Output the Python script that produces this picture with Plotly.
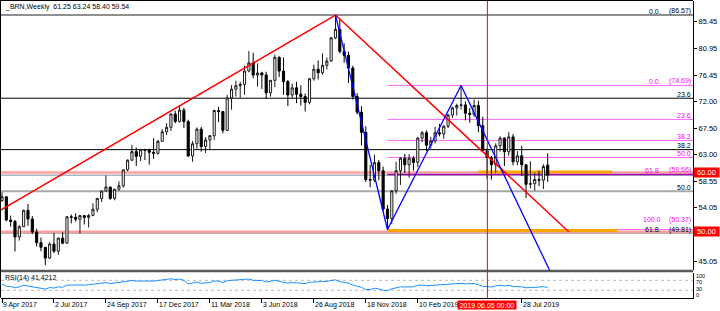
import plotly.graph_objects as go
import pandas as pd

# ---------------- data ----------------
header_text = "_BRN,Weekly\u00a0\u00a061.25 63.24 58.40 59.54"
first_week = "2017-04-09"

opens = [55.24, 55.89, 51.96, 51.73, 49.10, 50.84, 53.61, 52.15, 49.95, 48.15,
         47.37, 45.54, 47.92, 46.71, 48.91, 48.06, 52.52, 52.42, 52.10, 52.72,
         52.41, 52.75, 53.78, 55.62, 56.86, 57.54, 55.62, 57.17, 57.75, 60.44,
         62.07, 63.52, 62.72, 63.86, 63.73, 63.40, 63.23, 65.25, 66.87, 67.62,
         69.87, 68.61, 70.52, 68.58, 62.79, 64.84, 67.31, 64.37, 65.49, 66.21,
         70.45, 70.27, 67.11, 72.58, 74.06, 74.64, 74.87, 77.12, 78.51, 76.44,
         76.79, 76.46, 73.44, 75.55, 79.44, 77.11, 75.33, 73.07, 74.29, 73.21,
         72.81, 71.83, 75.82, 77.42, 76.83, 78.09, 78.80, 82.72, 84.16, 80.43,
         79.78, 77.62, 72.83, 70.18, 66.76, 58.80, 58.71, 61.67, 60.28, 53.82,
         52.20, 56.90, 60.30, 62.40, 61.30, 62.40, 61.70, 65.80, 66.70, 64.60,
         65.30, 66.70, 66.50, 67.80, 69.70, 70.90, 71.30, 71.40, 70.00, 69.80,
         71.30, 67.90, 63.70, 62.50, 61.30, 64.50, 65.80, 63.50, 66.00, 61.80,
         62.80, 61.30, 58.00, 58.10, 58.80, 58.70, 61.25]
highs = [56.65, 55.98, 52.72, 52.00, 51.10, 53.70, 54.67, 52.60, 50.50, 49.00,
         47.40, 48.20, 49.80, 49.00, 49.90, 52.60, 52.90, 53.10, 52.80, 52.80,
         53.00, 54.80, 55.70, 56.90, 59.49, 57.60, 57.20, 58.50, 60.50, 62.20,
         64.65, 64.20, 64.00, 64.00, 64.00, 65.80, 65.50, 67.30, 68.30, 70.00,
         70.40, 71.28, 70.90, 68.90, 65.30, 67.60, 67.70, 66.00, 66.30, 70.60,
         71.10, 70.30, 73.10, 74.75, 75.50, 75.30, 78.00, 80.50, 80.20, 78.40,
         77.00, 77.00, 75.60, 79.90, 79.60, 79.40, 75.60, 75.00, 75.30, 74.70,
         73.30, 75.90, 78.20, 78.90, 80.10, 79.40, 82.90, 86.57, 86.00, 81.80,
         80.40, 78.00, 73.40, 71.20, 67.80, 61.30, 63.00, 62.10, 61.00, 54.50,
         57.00, 61.80, 62.60, 63.10, 63.10, 62.80, 66.00, 67.00, 67.10, 66.00,
         67.70, 68.20, 68.00, 69.90, 71.10, 71.60, 74.69, 72.00, 70.90, 72.30,
         72.10, 69.40, 64.10, 62.80, 64.90, 66.10, 65.90, 66.80, 66.50, 63.60,
         64.50, 61.40, 61.90, 60.00, 60.30, 61.40, 63.24]
lows = [55.07, 51.76, 50.85, 46.64, 48.50, 50.90, 51.00, 49.60, 47.50, 46.70,
        44.35, 45.40, 46.40, 46.10, 47.90, 48.00, 51.40, 51.70, 49.70, 51.20,
        50.70, 52.60, 53.30, 55.00, 56.80, 55.40, 55.30, 56.90, 57.40, 60.20,
        62.00, 61.10, 61.90, 62.10, 61.30, 62.30, 63.00, 65.20, 66.30, 67.00,
        68.30, 68.40, 67.50, 62.60, 61.80, 64.00, 63.50, 63.30, 63.80, 65.50,
        68.50, 66.60, 67.00, 70.60, 72.80, 72.60, 73.10, 76.90, 75.90, 74.50,
        74.10, 72.40, 72.80, 74.40, 76.10, 73.10, 71.20, 72.50, 71.70, 71.30,
        70.30, 71.50, 75.50, 75.70, 76.50, 77.40, 78.70, 82.50, 80.10, 78.50,
        75.10, 72.30, 69.80, 64.60, 58.40, 57.50, 58.40, 58.70, 53.50, 50.37,
        51.30, 56.40, 57.90, 59.90, 59.10, 60.30, 60.90, 65.10, 63.60, 64.00,
        64.90, 66.10, 65.70, 67.50, 69.20, 69.60, 70.60, 68.80, 68.40, 69.40,
        66.80, 63.60, 59.00, 58.80, 59.90, 63.50, 61.10, 62.80, 61.20, 61.20,
        59.40, 55.70, 57.30, 56.90, 57.70, 57.20, 58.40]
closes = [55.89, 51.96, 51.73, 49.10, 50.84, 53.61, 52.15, 49.95, 48.15, 47.37,
          45.54, 47.92, 46.71, 48.91, 48.06, 52.52, 52.42, 52.10, 52.72, 52.41,
          52.75, 53.78, 55.62, 56.86, 57.54, 55.62, 57.17, 57.75, 60.44, 62.07,
          63.52, 62.72, 63.86, 63.73, 63.40, 63.23, 65.25, 66.87, 67.62, 69.87,
          68.61, 70.52, 68.58, 62.79, 64.84, 67.31, 64.37, 65.49, 66.21, 70.45,
          70.27, 67.11, 72.58, 74.06, 74.64, 74.87, 77.12, 78.51, 76.44, 76.79,
          76.46, 73.44, 75.55, 79.44, 77.11, 75.33, 73.07, 74.29, 73.21, 72.81,
          71.83, 75.82, 77.42, 76.83, 78.09, 78.80, 82.72, 84.16, 80.43, 79.78,
          77.62, 72.83, 70.18, 66.76, 58.80, 58.71, 61.67, 60.28, 53.82, 52.20,
          56.90, 60.30, 62.40, 61.30, 62.40, 61.70, 65.80, 66.70, 64.60, 65.30,
          66.70, 66.50, 67.80, 69.70, 70.90, 71.30, 71.40, 70.00, 69.80, 71.30,
          67.90, 63.70, 62.50, 61.30, 64.50, 65.80, 63.50, 66.00, 61.80, 62.80,
          61.30, 58.00, 58.10, 58.80, 58.70, 61.00, 59.54]
rsi14 = [55, 46, 45, 40, 44, 50, 47, 43, 40, 38,
         35, 41, 39, 44, 42, 51, 51, 50, 51, 51,
         52, 54, 58, 60, 61, 57, 59, 60, 64, 67,
         69, 67, 68, 68, 67, 67, 70, 72, 73, 76,
         73, 75, 70, 56, 59, 63, 58, 60, 61, 67,
         67, 61, 68, 70, 71, 71, 74, 75, 70, 70,
         69, 63, 66, 70, 66, 62, 59, 61, 59, 58,
         57, 62, 64, 63, 65, 66, 70, 72, 64, 63,
         59, 51, 47, 42, 33, 33, 38, 36, 30, 28,
         36, 41, 44, 43, 45, 44, 50, 51, 48, 49,
         51, 51, 53, 56, 57, 58, 58, 56, 55, 57,
         52, 46, 45, 43, 48, 50, 47, 50, 45, 46,
         44, 40, 40, 41, 43, 45, 41.42]
rsi_label = "RSI(14) 41.4212"
rsi_levels = [70, 30]
rsi_scale_text = ["100", "70", "30", "0"]

price_ticks = [85.45, 80.95, 76.45, 72.00, 67.50, 63.00, 58.55, 54.05, 45.05]
price_tick_text = ["85.45", "80.95", "76.45", "72.00", "67.50", "63.00", "58.55", "54.05", "45.05"]

time_tick_dates = ["2017-04-09", "2017-07-02", "2017-09-24", "2017-12-17", "2018-03-11",
                   "2018-06-03", "2018-08-26", "2018-11-18", "2019-02-10", "2019-07-28"]
time_tick_text = ["9 Apr 2017", "2 Jul 2017", "24 Sep 2017", "17 Dec 2017", "11 Mar 2018",
                  "3 Jun 2018", "26 Aug 2018", "18 Nov 2018", "10 Feb 2019", "28 Jul 2019"]

big_fib_prices = [86.57, 72.53, 63.85, 56.83, 49.81]
big_fib_names = ["0.0.", "23.6", "38.2", "50.0", "61.8."]
big_fib_values = ["(86.57)", "", "", "", "(49.81)"]

small_fib_start = "2018-12-23"
small_fib_prices = [74.69, 68.95, 65.40, 62.53, 59.66, 50.37]
small_fib_names = ["0.0.", "23.6", "38.2", "50.0", "61.8.", "100.0"]
small_fib_values = ["(74.69)", "", "", "", "(59.66)", "(50.37)"]

alert_prices = [60.00, 50.00]
alert_text = ["60.00", "50.00"]
bid_price = 59.54

zone_starts = ["2018-12-23", "2019-05-19"]
zone_ends = ["2019-12-29", "2019-12-21"]
zone_prices = [50.2, 60.07]

red_up_t = ["2017-04-06", "2018-09-30"]
red_up_p = [53.6, 86.57]
red_down_t = ["2018-09-30", "2019-10-12"]
red_down_p = [86.57, 50.0]
blue_t = ["2018-09-30", "2018-12-23", "2019-04-21", "2019-09-11"]
blue_p = [86.57, 50.37, 74.69, 43.5]

cursor_time = "2019-06-02 12:00"
cursor_text = "2019.06.05 00:00"

# ---------------- layout helpers ----------------
W, H = 720, 311
FONT = "Liberation Sans, Arial, sans-serif"
t0 = pd.Timestamp(first_week)
dates = [t0 + pd.Timedelta(weeks=i) for i in range(len(closes))]
BAR_PX, BAR0_PX = 4.331, 2.0
X_LEFT_PX, X_RIGHT_PX = 1.0, 693.0


def px_to_time(xpx):
    return t0 + pd.Timedelta(days=7 * (xpx - BAR0_PX) / BAR_PX)


def px(x):
    return x / W


def py(y):
    return 1 - y / H


x_range = [px_to_time(X_LEFT_PX), px_to_time(X_RIGHT_PX)]
MAIN_TOP, MAIN_BOT = 1.0, 270.0
P_TOP, P_BOT = 88.945, 43.53
RSI_TOP, RSI_BOT = 272.8, 297.8

fig = go.Figure()
fig.add_trace(go.Candlestick(
    x=dates, open=opens, high=highs, low=lows, close=closes,
    increasing=dict(line=dict(color="#1a1a1a", width=1), fillcolor="#ffffff"),
    decreasing=dict(line=dict(color="#000000", width=1), fillcolor="#000000"),
    whiskerwidth=0, xaxis="x", yaxis="y", showlegend=False, hoverinfo="skip"))

fig.add_trace(go.Scatter(x=red_up_t, y=red_up_p, mode="lines",
                         line=dict(color="#ff0000", width=1.5), xaxis="x", yaxis="y", hoverinfo="skip"))
fig.add_trace(go.Scatter(x=red_down_t, y=red_down_p, mode="lines",
                         line=dict(color="#ff0000", width=1.5), xaxis="x", yaxis="y", hoverinfo="skip"))
fig.add_trace(go.Scatter(x=blue_t, y=blue_p, mode="lines",
                         line=dict(color="#0000ff", width=1.3), xaxis="x", yaxis="y", hoverinfo="skip"))

fig.add_trace(go.Scatter(x=dates, y=rsi14, mode="lines", line=dict(color="#1e90ff", width=1),
                         xaxis="x2", yaxis="y2", hoverinfo="skip"))

shapes = []
big_styles = [("#6a6a6a", 1.5), ("#000000", 1), ("#000000", 1), ("#a8a8a8", 2), ("#000000", 1)]
for p, (c, w) in zip(big_fib_prices, big_styles):
    shapes.append(dict(type="line", xref="x domain", yref="y", x0=0, x1=1, y0=p, y1=p,
                       line=dict(color=c, width=w), layer="below"))
for p in alert_prices:
    shapes.append(dict(type="line", xref="x domain", yref="y", x0=0, x1=1, y0=p, y1=p,
                       line=dict(color="#ffa0a0", width=2.5), layer="below"))
shapes.append(dict(type="line", xref="x domain", yref="y", x0=0, x1=1, y0=bid_price, y1=bid_price,
                   line=dict(color="#8090a8", width=1), layer="below"))
for p, nm in zip(small_fib_prices, small_fib_names):
    col, w = ("#a000b0", 1.5) if nm == "61.8." else ("#ff66ff", 1)
    shapes.append(dict(type="line", xref="x", yref="y", x0=small_fib_start, x1=x_range[1], y0=p, y1=p,
                       line=dict(color=col, width=w), layer="below"))
for s, e, p in zip(zone_starts, zone_ends, zone_prices):
    shapes.append(dict(type="line", xref="x", yref="y", x0=s, x1=e, y0=p, y1=p,
                       line=dict(color="#ffa500", width=3), layer="below"))
for lv in rsi_levels:
    shapes.append(dict(type="line", xref="x2 domain", yref="y2", x0=0, x1=1, y0=lv, y1=lv,
                       line=dict(color="#b8b8b8", width=1, dash="dot"), layer="below"))
shapes.append(dict(type="rect", xref="paper", yref="paper", x0=0, x1=px(X_RIGHT_PX),
                   y0=py(272.3), y1=py(269.7), fillcolor="#5a5a5a", line=dict(width=0)))
shapes.append(dict(type="line", xref="paper", yref="paper", x0=px(0.5), x1=px(0.5),
                   y0=py(297.8), y1=py(0), line=dict(color="#000000", width=1)))
shapes.append(dict(type="line", xref="paper", yref="paper", x0=0, x1=px(X_RIGHT_PX),
                   y0=py(0.5), y1=py(0.5), line=dict(color="#000000", width=1)))
shapes.append(dict(type="line", xref="x", yref="paper", x0=cursor_time, x1=cursor_time,
                   y0=py(RSI_BOT), y1=py(MAIN_TOP), line=dict(color="#ff0000", width=1)))

ann = []


def txt(x, y, s, color="#000000", size=7, xanchor="left", yanchor="middle", xref="paper", yref="paper",
        yshift=0, xshift=0, **kw):
    ann.append(dict(x=x, y=y, text=s, xref=xref, yref=yref, xanchor=xanchor, yanchor=yanchor,
                    showarrow=False, font=dict(family=FONT, size=size, color=color),
                    yshift=yshift, xshift=xshift, **kw))


txt(px(2.5), py(7), header_text, size=7)
txt(px(2.5), py(277.5), rsi_label, size=7)

for p, nm, v in zip(big_fib_prices, big_fib_names, big_fib_values):
    ys = 3 if nm == "61.8." else 4
    if v:
        txt(px(663), p, nm, yref="y", xanchor="right", yshift=ys)
        txt(px(693), p, v, yref="y", xanchor="right", yshift=ys)
    else:
        txt(px(693), p, nm, yref="y", xanchor="right", yshift=ys)
for p, nm, v in zip(small_fib_prices, small_fib_names, small_fib_values):
    ys = 9.5 if nm == "100.0" else 4
    if v:
        txt(px(663), p, nm, color="#ff00ff", yref="y", xanchor="right", yshift=ys)
        txt(px(693), p, v, color="#ff00ff", yref="y", xanchor="right", yshift=ys)
    else:
        txt(px(693), p, nm, color="#ff00ff", yref="y", xanchor="right", yshift=ys)

for p, s in zip(alert_prices, alert_text):
    txt(px(693), p, s, color="#ffffff", size=7.5, yref="y", bgcolor="#ff0000", borderpad=0,
        width=25, height=9, align="center")

for d, s in zip(time_tick_dates, time_tick_text):
    txt(d, py(304.5), s, xref="x", size=7, xshift=-1)

txt(cursor_time, py(304.6), cursor_text, color="#ffffff", xref="x", xanchor="center", size=7,
    bgcolor="#ff0000", borderpad=0, width=58, height=8, align="center")

rsi_label_y = [275.6, 281.6, 289.2, 295.2]
for s, yy in zip(rsi_scale_text, rsi_label_y):
    txt(px(696.5), py(yy), s, size=5.5, xshift=-2, borderpad=0)

fig.update_layout(
    width=W, height=H, margin=dict(l=0, r=0, t=0, b=0),
    paper_bgcolor="#ffffff", plot_bgcolor="#ffffff", showlegend=False,
    shapes=shapes, annotations=ann,
    xaxis=dict(domain=[px(X_LEFT_PX), px(X_RIGHT_PX)], range=x_range, type="date",
               showticklabels=False, showgrid=False, zeroline=False, showline=False, ticks="",
               rangeslider=dict(visible=False), anchor="y"),
    yaxis=dict(domain=[py(MAIN_BOT), py(MAIN_TOP)], range=[P_BOT, P_TOP], side="right", anchor="x",
               tickvals=price_ticks, ticktext=price_tick_text, ticks="outside", ticklen=3,
               tickcolor="#000000", showline=True, linecolor="#000000", linewidth=1,
               showgrid=False, zeroline=False,
               tickfont=dict(family=FONT, size=7.5, color="#000000")),
    xaxis2=dict(domain=[px(X_LEFT_PX), px(X_RIGHT_PX)], range=x_range, type="date", matches="x",
                anchor="y2", showline=True, linecolor="#000000", linewidth=1, ticks="outside",
                tickvals=time_tick_dates, ticklen=4, tickcolor="#000000", showticklabels=False,
                showgrid=False, zeroline=False),
    yaxis2=dict(domain=[py(RSI_BOT), py(RSI_TOP)], range=[0, 100], side="right", anchor="x2",
                showline=True, linecolor="#000000", linewidth=1, showticklabels=False, ticks="",
                showgrid=False, zeroline=False),
)

fig.write_html("out.html")
